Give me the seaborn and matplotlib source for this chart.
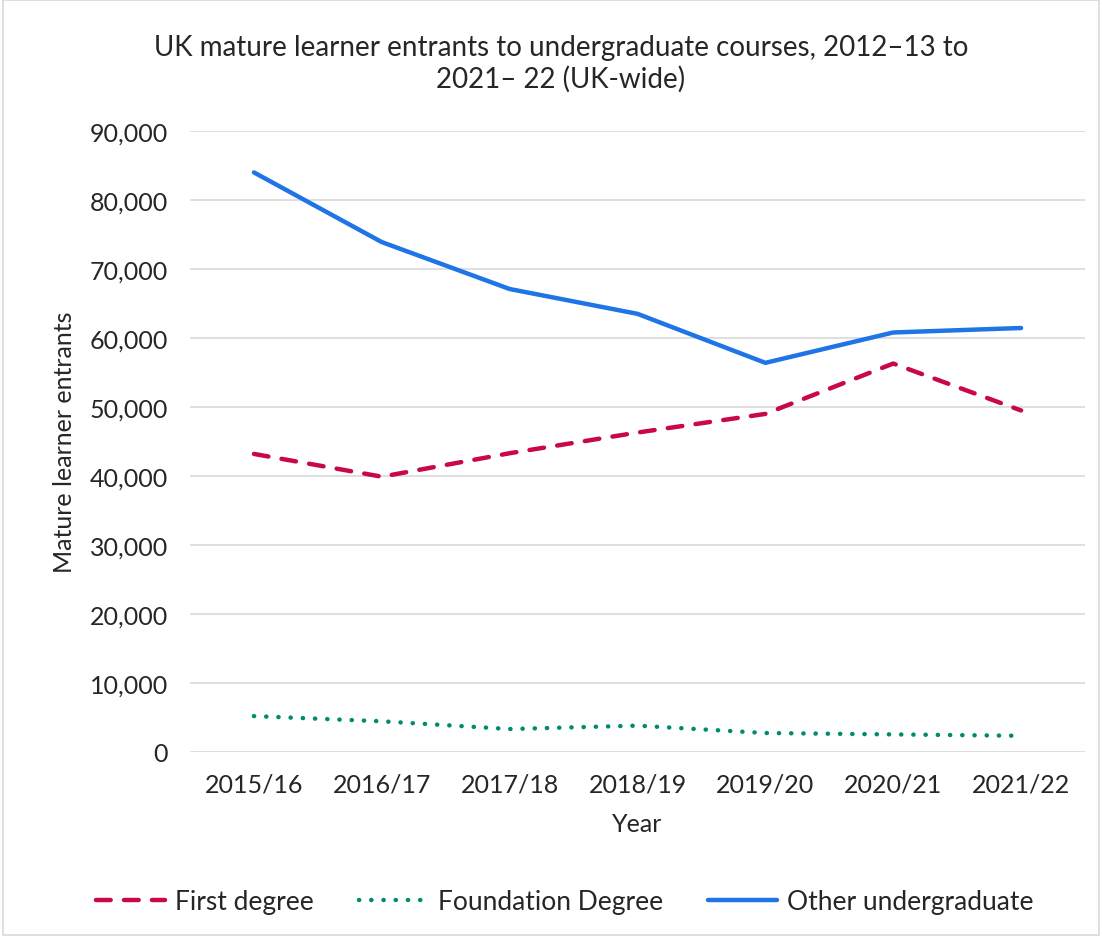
import pandas as pd
import matplotlib.pyplot as plt
import seaborn as sns
from matplotlib.patches import Rectangle

# Values
years = ['2015/16', '2016/17', '2017/18', '2018/19', '2019/20', '2020/21', '2021/22']
first_degree = [43200, 39900, 43300, 46300, 49000, 56300, 49500]
foundation_degree = [5200, 4450, 3330, 3820, 2750, 2550, 2350]
other_undergraduate = [84000, 73900, 67100, 63500, 56400, 60800, 61450]
series_names = ['First degree', 'Foundation Degree', 'Other undergraduate']

df = pd.DataFrame({
    'Year': years * 3,
    'value': first_degree + foundation_degree + other_undergraduate,
    'Series': [series_names[0]] * 7 + [series_names[1]] * 7 + [series_names[2]] * 7,
})

sns.set_style('white')
plt.rcParams['font.family'] = ['Lato', 'DejaVu Sans']
text_col = '#262626'

fig = plt.figure(figsize=(11.02, 9.37), dpi=100)
ax = fig.add_axes([190 / 1102, 1 - 753 / 937, 895 / 1102, 621 / 937])

colors = {'First degree': '#C8084B', 'Foundation Degree': '#008A6E', 'Other undergraduate': '#1F74E6'}
styles = {
    'First degree': (0, (3.3, 3.0)),
    'Foundation Degree': (0, (0.05, 2.7)),
    'Other undergraduate': '-',
}

for name in series_names:
    sub = df[df['Series'] == name]
    sns.lineplot(data=sub, x='Year', y='value', ax=ax, color=colors[name],
                 linewidth=3.2, linestyle=styles[name], label=name,
                 dash_capstyle='round', solid_capstyle='round')

ax.set_xlim(-0.5, 6.5)
ax.set_ylim(0, 90000)
ax.set_yticks(range(0, 90001, 10000))
ax.set_yticklabels([f'{v:,}' for v in range(0, 90001, 10000)])
ax.grid(axis='y', color='#d9d9d9', linewidth=1.2)
ax.set_axisbelow(True)
for s in ax.spines.values():
    s.set_visible(False)
ax.tick_params(axis='y', length=0, pad=16, labelsize=18, colors=text_col)
ax.tick_params(axis='x', length=0, pad=15, labelsize=18, colors=text_col)

ax.set_xlabel('Year', fontsize=18, color=text_col, labelpad=12)
ax.set_ylabel('Mature learner entrants', fontsize=18, color=text_col, labelpad=10)

fig.text(561 / 1102, 1 - 64 / 937,
         'UK mature learner entrants to undergraduate courses, 2012–13 to\n2021– 22 (UK-wide)',
         ha='center', va='center', fontsize=20, color=text_col, linespacing=1.2)

handles, labels = ax.get_legend_handles_labels()
ax.get_legend().remove()
fig.legend(handles, labels, loc='center', bbox_to_anchor=(565 / 1102, 1 - 903 / 937),
           ncol=3, frameon=False, fontsize=19, handlelength=2.6, handletextpad=0.4,
           columnspacing=1.7, labelcolor=text_col)

# light border around the whole chart
fig.patches.append(Rectangle((0.003, 0.001), 0.994, 0.998, transform=fig.transFigure,
                             fill=False, edgecolor='#d9d9d9', linewidth=1.2))

fig.savefig('out.png', dpi=100)
